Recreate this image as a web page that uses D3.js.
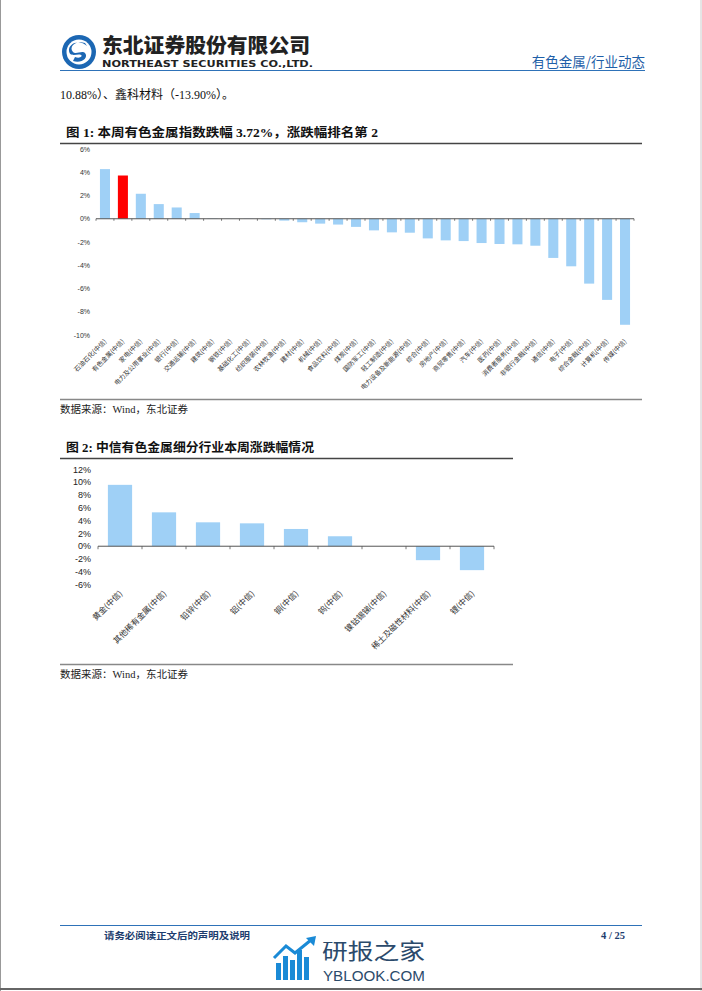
<!DOCTYPE html>
<html>
<head>
<meta charset="utf-8">
<script src="https://cdn.jsdelivr.net/npm/d3@7/dist/d3.min.js"></script>
<style>
  html, body { margin: 0; padding: 0; background: #fff; }
  svg { display: block; }
</style>
</head>
<body>
<svg id="page" width="702" height="991"></svg>
<script>
// ---------- data ----------
const chart1Categories = ["石油石化(中信)","有色金属(中信)","家电(中信)","电力及公用事业(中信)","银行(中信)","交通运输(中信)","建筑(中信)","钢铁(中信)","基础化工(中信)","纺织服装(中信)","农林牧渔(中信)","建材(中信)","机械(中信)","食品饮料(中信)","煤炭(中信)","国防军工(中信)","轻工制造(中信)","电力设备及新能源(中信)","综合(中信)","房地产(中信)","商贸零售(中信)","汽车(中信)","医药(中信)","消费者服务(中信)","非银行金融(中信)","通信(中信)","电子(中信)","综合金融(中信)","计算机(中信)","传媒(中信)"];
const chart1Values = [4.27,3.72,2.15,1.26,0.97,0.49,0.03,0.01,-0.02,-0.05,-0.16,-0.30,-0.42,-0.50,-0.70,-1.00,-1.17,-1.20,-1.69,-1.86,-1.92,-2.09,-2.17,-2.20,-2.32,-3.37,-4.09,-5.58,-6.98,-9.12];
const chart1Highlight = "有色金属(中信)";
const chart1Ticks = [6,4,2,0,-2,-4,-6,-8,-10];

const chart2Categories = ["黄金(中信)","其他稀有金属(中信)","铅锌(中信)","铝(中信)","铜(中信)","钨(中信)","镍钴锡锑(中信)","稀土及磁性材料(中信)","锂(中信)"];
const chart2Values = [9.60,5.30,3.74,3.58,2.70,1.56,0.00,-2.18,-3.74];
const chart2Ticks = [12,10,8,6,4,2,0,-2,-4,-6];

// ---------- page ----------
const svg = d3.select("#page");
const CJK = "'Noto Sans CJK SC', 'Noto Sans', sans-serif";
const SERIF = "'Liberation Serif', 'Noto Sans CJK SC', serif";
const SANS = "'Liberation Sans', Arial, 'Noto Sans CJK SC', sans-serif";
const barBlue = "#9fd0f6";

// page borders
svg.append("line").attr("x1",0.5).attr("x2",0.5).attr("y1",0).attr("y2",991).attr("stroke","#999").attr("stroke-width",1);
svg.append("line").attr("x1",701).attr("x2",701).attr("y1",0).attr("y2",991).attr("stroke","#ccc").attr("stroke-width",1);
svg.append("line").attr("x1",0).attr("x2",702).attr("y1",989).attr("y2",989).attr("stroke","#666").attr("stroke-width",2);

// ---------- header ----------
const logo = svg.append("g").attr("transform","translate(79,52)");
logo.append("circle").attr("r",17).attr("fill","#1c67b3");
logo.append("circle").attr("r",12.5).attr("fill","#fff");
logo.append("path")
  .attr("d","M6,-9 C-2,-12 -11,-6 -6,0 C-3,3 3,-2 6,1 C10,6 2,12 -6,9 L-4,5 C1,7 4,4 2,3 C-1,1 -9,6 -10,-1 C-11,-9 1,-13 8,-6 Z")
  .attr("fill","#1c67b3");
svg.append("text").attr("x",102).attr("y",53).attr("font-family",CJK).attr("font-weight",900)
  .attr("font-size",20).attr("fill","#222").attr("textLength",208).attr("lengthAdjust","spacingAndGlyphs")
  .text("东北证券股份有限公司");
svg.append("text").attr("x",102).attr("y",67).attr("font-family","'DejaVu Sans', sans-serif").attr("font-weight","bold")
  .attr("font-size",9.5).attr("fill","#222").attr("textLength",211).attr("lengthAdjust","spacingAndGlyphs")
  .text("NORTHEAST SECURITIES CO.,LTD.");
svg.append("text").attr("x",645).attr("y",67).attr("text-anchor","end").attr("font-family",CJK)
  .attr("font-size",13.5).attr("fill","#1f5fa8").text("有色金属/行业动态");
svg.append("line").attr("x1",60).attr("x2",645).attr("y1",70.5).attr("y2",70.5).attr("stroke","#2e72b8").attr("stroke-width",1.2);

svg.append("text").attr("x",60).attr("y",99).attr("font-family",SERIF).attr("font-size",12).attr("fill","#111")
  .text("10.88%）、鑫科材料（-13.90%）。");

// ---------- chart 1 ----------
svg.append("text").attr("x",66).attr("y",137).attr("font-family",SERIF).attr("font-weight","bold")
  .attr("font-size",12.5).attr("fill","#111").attr("textLength",312).attr("lengthAdjust","spacingAndGlyphs")
  .text("图  1:  本周有色金属指数跌幅 3.72%，涨跌幅排名第 2");
svg.append("line").attr("x1",60).attr("x2",642).attr("y1",143.5).attr("y2",143.5).attr("stroke","#444").attr("stroke-width",1.5);

const x1 = d3.scaleBand().domain(chart1Categories).range([96,634]).paddingInner(0.44).paddingOuter(0.22);
const y1 = d3.scaleLinear().domain([-10,6]).range([335,149]);

const g1 = svg.append("g");
g1.selectAll("text.yt").data(chart1Ticks).join("text")
  .attr("class","yt").attr("x",90).attr("y",d=>y1(d)+2.5).attr("text-anchor","end")
  .attr("font-family",SANS).attr("font-size",7).attr("fill","#333").text(d=>d+"%");
g1.selectAll("rect.bar").data(chart1Values).join("rect")
  .attr("class","bar")
  .attr("x",(d,i)=>x1(chart1Categories[i]))
  .attr("width",x1.bandwidth())
  .attr("y",d=>y1(Math.max(0,d)))
  .attr("height",d=>Math.abs(y1(d)-y1(0)))
  .attr("fill",(d,i)=>chart1Categories[i]===chart1Highlight ? "#ff0000" : barBlue);
const step1 = x1.step();
g1.append("line").attr("x1",96).attr("x2",634).attr("y1",y1(0)).attr("y2",y1(0)).attr("stroke","#555").attr("stroke-width",1);
g1.selectAll("line.tk").data(d3.range(chart1Categories.length+1)).join("line")
  .attr("class","tk").attr("x1",i=>96+i*step1).attr("x2",i=>96+i*step1)
  .attr("y1",y1(0)).attr("y2",y1(0)+2).attr("stroke","#555").attr("stroke-width",0.8);
g1.selectAll("text.xl").data(chart1Categories).join("text")
  .attr("class","xl")
  .attr("transform",d=>`translate(${x1(d)+x1.bandwidth()/2+2},342) rotate(-45)`)
  .attr("text-anchor","end").attr("font-family",CJK).attr("font-size",6.4).attr("fill","#333").text(d=>d);

svg.append("line").attr("x1",60).attr("x2",642).attr("y1",399.5).attr("y2",399.5).attr("stroke","#888").attr("stroke-width",1.5);
svg.append("text").attr("x",60).attr("y",413).attr("font-family",SERIF).attr("font-size",10.5).attr("fill","#222")
  .text("数据来源：Wind，东北证券");

// ---------- chart 2 ----------
svg.append("text").attr("x",66).attr("y",452).attr("font-family",SERIF).attr("font-weight","bold")
  .attr("font-size",12.5).attr("fill","#111").attr("textLength",248).attr("lengthAdjust","spacingAndGlyphs")
  .text("图  2:  中信有色金属细分行业本周涨跌幅情况");
svg.append("line").attr("x1",60).attr("x2",513).attr("y1",458.5).attr("y2",458.5).attr("stroke","#444").attr("stroke-width",1.5);

const x2 = d3.scaleBand().domain(chart2Categories).range([98,494]).paddingInner(0.45).paddingOuter(0.225);
const y2 = d3.scaleLinear().domain([-6,12]).range([584.6,469.5]);
const g2 = svg.append("g");
g2.selectAll("text.yt").data(chart2Ticks).join("text")
  .attr("class","yt").attr("x",91).attr("y",d=>y2(d)+3.2).attr("text-anchor","end")
  .attr("font-family",SANS).attr("font-size",9).attr("fill","#222").text(d=>d+"%");
g2.selectAll("rect.bar").data(chart2Values).join("rect")
  .attr("class","bar")
  .attr("x",(d,i)=>x2(chart2Categories[i]))
  .attr("width",x2.bandwidth())
  .attr("y",d=>y2(Math.max(0,d)))
  .attr("height",d=>Math.abs(y2(d)-y2(0)))
  .attr("fill",barBlue);
const step2 = x2.step();
g2.append("line").attr("x1",98).attr("x2",494).attr("y1",y2(0)).attr("y2",y2(0)).attr("stroke","#555").attr("stroke-width",1);
g2.selectAll("line.tk").data(d3.range(chart2Categories.length+1)).join("line")
  .attr("class","tk").attr("x1",i=>98+i*step2).attr("x2",i=>98+i*step2)
  .attr("y1",y2(0)).attr("y2",y2(0)+3).attr("stroke","#555").attr("stroke-width",0.8);
g2.selectAll("text.xl").data(chart2Categories).join("text")
  .attr("class","xl")
  .attr("transform",d=>`translate(${x2(d)+x2.bandwidth()/2+3},594) rotate(-45)`)
  .attr("text-anchor","end").attr("font-family",CJK).attr("font-size",8.2).attr("fill","#333").text(d=>d);

svg.append("line").attr("x1",60).attr("x2",513).attr("y1",664.5).attr("y2",664.5).attr("stroke","#888").attr("stroke-width",1.5);
svg.append("text").attr("x",60).attr("y",678).attr("font-family",SERIF).attr("font-size",10.5).attr("fill","#222")
  .text("数据来源：Wind，东北证券");

// ---------- footer ----------
svg.append("line").attr("x1",60).attr("x2",642).attr("y1",925.5).attr("y2",925.5).attr("stroke","#2e72b8").attr("stroke-width",1.2);
svg.append("text").attr("x",104).attr("y",939).attr("font-family",CJK).attr("font-weight","bold")
  .attr("font-size",9.5).attr("fill","#1d3d6e").attr("textLength",146).attr("lengthAdjust","spacingAndGlyphs")
  .text("请务必阅读正文后的声明及说明");
svg.append("text").attr("x",625).attr("y",939).attr("text-anchor","end").attr("font-family",SERIF).attr("font-weight","bold")
  .attr("font-size",10.5).attr("fill","#1d3d6e").text("4 / 25");

// watermark
const wm = svg.append("g");
const wmBars = [[276,963,5,17],[283,956,5,24],[290,960,5,20],[297,950,5,30],[304,957,5,23]];
wm.selectAll("rect").data(wmBars).join("rect")
  .attr("x",d=>d[0]).attr("y",d=>d[1]).attr("width",d=>d[2]).attr("height",d=>d[3]).attr("fill","#1a8ad6");
wm.append("path").attr("d","M274,958 L286,946 L295,953 L311,940").attr("fill","none").attr("stroke","#1a8ad6").attr("stroke-width",3);
wm.append("path").attr("d","M306,938 L316,936 L314,946 Z").attr("fill","#1a8ad6");
wm.append("text").attr("x",322).attr("y",959).attr("font-family",CJK).attr("font-size",22)
  .attr("fill","#2b4a6b").attr("textLength",103).attr("lengthAdjust","spacingAndGlyphs").text("研报之家");
wm.append("text").attr("x",323).attr("y",981).attr("font-family","'Liberation Sans', sans-serif").attr("font-size",14)
  .attr("fill","#2b4a6b").attr("textLength",102).attr("lengthAdjust","spacingAndGlyphs").text("YBLOOK.COM");
</script>
</body>
</html>
